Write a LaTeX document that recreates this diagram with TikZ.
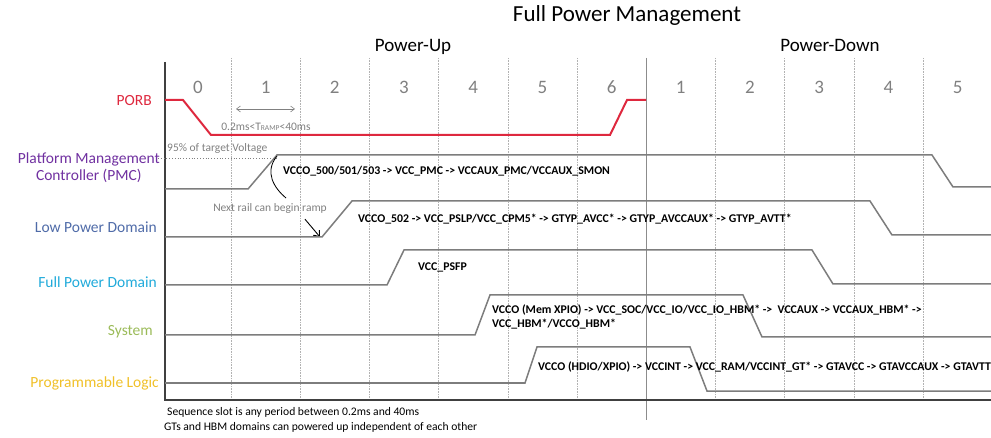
\documentclass[tikz,border=0pt]{standalone}
\usepackage{fontspec}
\setmainfont{Carlito}
\usetikzlibrary{arrows.meta}

\definecolor{porbred}{RGB}{222,40,62}
\definecolor{pmcpurple}{RGB}{112,48,160}
\definecolor{lpdblue}{RGB}{79,107,168}
\definecolor{fpdcyan}{RGB}{32,170,218}
\definecolor{sysgreen}{RGB}{155,187,89}
\definecolor{plgold}{RGB}{240,192,40}
\definecolor{wavegray}{RGB}{125,125,125}

\tikzset{
  wave/.style={draw=wavegray, line width=1.5pt},
  rail/.style={font=\fontsize{15.5}{17}\selectfont, anchor=east, inner sep=0pt},
  railtext/.style={font=\bfseries\fontsize{11.8}{14}\selectfont, anchor=west, inner sep=0pt},
  note/.style={font=\fontsize{11.5}{13}\selectfont, text=black!50, inner sep=0pt},
  slot/.style={font=\fontsize{19}{19}\selectfont, text=black!50},
  footnote/.style={font=\fontsize{11.6}{13}\selectfont, anchor=west, inner sep=0pt},
}

\begin{document}
\begin{tikzpicture}[x=1pt,y=-1pt]
\useasboundingbox (0,0) rectangle (991,438);

\foreach \k in {0,...,10}
  \draw[densely dotted, black!30, line width=0.6pt] ({231+69.2*\k},58) -- ({231+69.2*\k},399);
\draw[black!45, line width=1pt] (646.2,58) -- (646.2,420);

\draw[black!75, line width=2pt] (165,62) -- (165,400) -- (991,400);

\node[font=\fontsize{23}{24}\selectfont] (title) at (627,15) {Full Power Management};
\node[font=\fontsize{19}{20}\selectfont] (powerup) at (413,47) {Power-Up};
\node[font=\fontsize{19}{20}\selectfont] (powerdown) at (830,45) {Power-Down};

\node[slot] (u0) at (198,87) {0};
\foreach \n in {1,...,6}
  \node[slot] (u\n) at ({196.4+69.2*\n},87) {\n};
\foreach \n in {1,...,5}
  \node[slot] (d\n) at ({611.6+69.2*\n},87) {\n};

\node[rail, text=porbred] (porb) at (152,101) {PORB};
\node[rail, text=pmcpurple, align=center] (pmc) at (160,168) {Platform Management\\Controller (PMC)};
\node[rail, text=lpdblue] (lpd) at (157,227) {Low Power Domain};
\node[rail, text=fpdcyan] (fpd) at (157,282) {Full Power Domain};
\node[rail, text=sysgreen] (sys) at (153,332) {System};
\node[rail, text=plgold] (pl) at (159,383) {Programmable Logic};

% PORB
\draw[porbred, line width=2pt] (165,100) -- (183,100) -- (211,135) -- (610,135) -- (627,100) -- (646,100);
\coordinate (rampL) at (236,109);
\coordinate (rampR) at (295,109);
\draw[{Straight Barb[length=4pt,width=6pt]}-{Straight Barb[length=4pt,width=6pt]}, black!50, line width=0.6pt] (rampL) -- (rampR);
\node[note] (tramp) at (266,127) {0.2ms<T{\fontsize{7.5}{8}\selectfont RAMP}<40ms};

% PMC
\draw[dotted, black!50, line width=0.8pt] (158,158) -- (277,158);
\node[note, anchor=west] (target) at (167,148) {95\% of target Voltage};
\draw[wave] (165,189) -- (248,189) -- (277,155) -- (932,155) -- (953,187) -- (991,187);
\node[railtext] (pmcrails) at (283,171) {VCCO\_500/501/503 -> VCC\_PMC -> VCCAUX\_PMC/VCCAUX\_SMON};

\coordinate (pmctop) at (277,156);
\coordinate (curveend) at (286,198);
\draw[black, line width=0.8pt] (pmctop) .. controls (264,172) and (274,188) .. (curveend);
\node[note] (nextrail) at (270,208) {Next rail can begin ramp};
\coordinate (lpdstart) at (320,237);
\draw[-{Straight Barb[length=5pt,width=8pt]}, black, line width=0.9pt] (nextrail.south east) ++(-22,6) -- (lpdstart);

% LPD
\draw[wave] (165,237) -- (322,237) -- (352,201) -- (870,201) -- (892,235) -- (991,235);
\node[railtext] (lpdrails) at (358,219) {VCCO\_502 -> VCC\_PSLP/VCC\_CPM5* -> GTYP\_AVCC* -> GTYP\_AVCCAUX* -> GTYP\_AVTT*};

% FPD
\draw[wave] (165,285) -- (387,285) -- (404,250) -- (812,250) -- (833,284) -- (991,284);
\node[railtext] (fpdrails) at (418,267) {VCC\_PSFP};

% System
\draw[wave] (165,335) -- (475,335) -- (490,295) -- (743,295) -- (762,337) -- (991,337);
\node[railtext, align=left] (sysrails) at (492,317) {VCCO (Mem XPIO) -> VCC\_SOC/VCC\_IO/VCC\_IO\_HBM* ->~~VCCAUX -> VCCAUX\_HBM* ->\\VCC\_HBM*/VCCO\_HBM*};

% PL
\draw[wave] (165,383) -- (525,383) -- (537,347) -- (690,347) -- (707,391) -- (991,391);
\node[railtext] (plrails) at (538,367) {VCCO (HDIO/XPIO) -> VCCINT -> VCC\_RAM/VCCINT\_GT* -> GTAVCC -> GTAVCCAUX -> GTAVTT};

\node[footnote] (foot1) at (167,412) {Sequence slot is any period between 0.2ms and 40ms};
\node[footnote] (foot2) at (164,427) {GTs and HBM domains can powered up independent of each other};
\end{tikzpicture}
\end{document}
